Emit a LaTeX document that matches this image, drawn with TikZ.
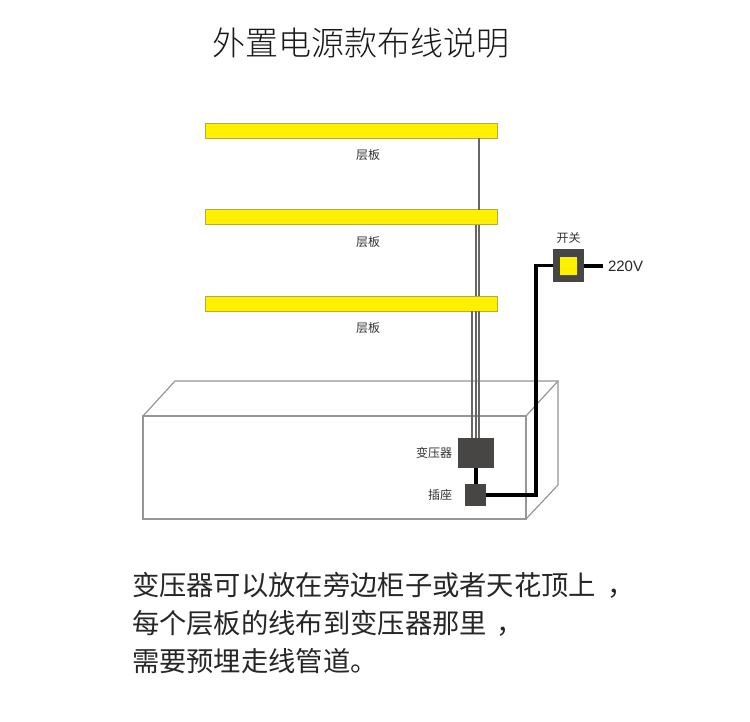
\documentclass[tikz,border=0pt]{standalone}
\usepackage{fontspec}
\setmainfont{Liberation Sans}
\newfontfamily\cjk{Noto Sans CJK SC}
\newfontfamily\cjklight{Noto Sans CJK SC Light}
\usetikzlibrary{positioning}
\definecolor{shelfyellow}{HTML}{FFF000}
\definecolor{shelfedge}{HTML}{B5AC3C}
\definecolor{boxgray}{HTML}{484545}
\definecolor{casegray}{HTML}{969696}
\begin{document}
\begin{tikzpicture}[x=1pt,y=-1pt,line width=1.2pt,outer sep=0pt,
  shelf/.style={draw=shelfedge,fill=shelfyellow,line width=0.8pt,minimum width=292pt,minimum height=15pt,inner sep=0pt},
  shelflabel/.style={font=\cjk\fontsize{12}{14}\selectfont,text=black!80,inner sep=0pt},
  partlabel/.style={font=\cjk\fontsize{12}{14}\selectfont,text=black!80,inner sep=0pt},
  thinwire/.style={draw=black!60,line width=1.5pt},
  mainwire/.style={draw=black,line width=3.2pt,line join=miter},
  unit/.style={fill=boxgray,inner sep=0pt},
  note/.style={font=\cjk\fontsize{27.3}{30}\selectfont,text=black!85,anchor=west,inner sep=0pt}]
  \useasboundingbox (0,0) rectangle (750,721);
  \fill[white] (0,0) rectangle (750,721);

  % cabinet
  \draw[casegray] (143,416) -- (175,381) -- (558,381) -- (558,485) -- (526,519);
  \draw[casegray] (526,416) -- (558,381);
  \draw[casegray] (143,416) rectangle (526,519);

  % shelves
  \node[shelf] (shelfa) at (351,130.5) {};
  \node[shelf] (shelfb) at (351,217.2) {};
  \node[shelf] (shelfc) at (351,303.5) {};
  \node[shelflabel] (labela) at (368,155) {层板};
  \node[shelflabel] (labelb) at (368,242) {层板};
  \node[shelflabel] (labelc) at (368,328) {层板};

  % units
  \node[unit,minimum width=36pt,minimum height=30pt] (trafo) at (476,453) {};
  \node[unit,minimum width=21pt,minimum height=22pt] (socket) at (475.5,495) {};
  \node[partlabel,left=6pt of trafo] (trafolabel) {变压器};
  \node[partlabel,left=13pt of socket] (socketlabel) {插座};
  \node[unit,minimum width=31pt,minimum height=33pt] (switch) at (568.5,265.5) {};
  \node[fill=shelfyellow,minimum width=17pt,minimum height=18pt,inner sep=0pt] (lamp) at (568.5,266) {};
  \node[partlabel,above=5pt of switch] (switchlabel) {开关};
  \node[font=\fontsize{15}{17}\selectfont,text=black!85,anchor=west,inner sep=0pt] (mains) at (608,266) {220V};
  \coordinate (mainsend) at (603,266);

  % wires
  \draw[thinwire] (479,0 |- shelfa.south) -- (479,0 |- shelfb.north);
  \draw[thinwire] (479,0 |- shelfb.south) -- (479,0 |- shelfc.north);
  \draw[thinwire] (476,0 |- shelfb.south) -- (476,0 |- shelfc.north);
  \draw[thinwire] (479,0 |- shelfc.south) -- (479,0 |- trafo.north);
  \draw[thinwire] (476,0 |- shelfc.south) -- (476,0 |- trafo.north);
  \draw[thinwire] (472,0 |- shelfc.south) -- (472,0 |- trafo.north);
  \draw[mainwire] (trafo.south) -- (trafo.south |- socket.north);
  \draw[mainwire] (socket.east) -- (536,495) -- (536,265.5) -- (switch.west);
  \draw[mainwire] (switch.east |- mainsend) -- (mainsend);

  % texts
  \node[font=\cjklight\fontsize{33}{36}\selectfont,text=black!90] (title) at (361,43) {外置电源款布线说明};
  \node[note] (notea) at (132,585) {变压器可以放在旁边柜子或者天花顶上\hspace{11pt}，};
  \node[note] (noteb) at (132,623) {每个层板的线布到变压器那里\hspace{10pt}，};
  \node[note] (notec) at (132,661) {需要预埋走线管道。};
\end{tikzpicture}
\end{document}
